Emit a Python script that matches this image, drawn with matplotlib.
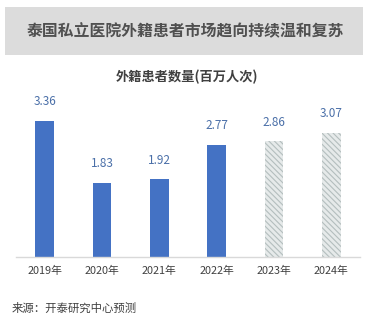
import matplotlib.pyplot as plt
from matplotlib.patches import Rectangle

plt.rcParams['font.family'] = ['Noto Sans CJK SC', 'DejaVu Sans']
plt.rcParams['hatch.linewidth'] = 0.8

years = ['2019年', '2020年', '2021年', '2022年', '2023年', '2024年']
values = [3.36, 1.83, 1.92, 2.77, 2.86, 3.07]
forecast = [False, False, False, False, True, True]

W, H = 369, 322
fig = plt.figure(figsize=(W / 100, H / 100), dpi=100)
fig.patch.set_facecolor('white')

# grey title band
fig.patches.append(Rectangle((5 / W, 1 - 55 / H), 358 / W, 48 / H,
                             transform=fig.transFigure, facecolor='#dcdcdc',
                             edgecolor='none', zorder=0))
fig.text(185 / W, 1 - 31 / H, '泰国私立医院外籍患者市场趋向持续温和复苏',
         ha='center', va='center', fontsize=11.4, fontweight='bold', color='#505050')
fig.text(187 / W, 1 - 77 / H, '外籍患者数量(百万人次)',
         ha='center', va='center', fontsize=9.5, fontweight='bold', color='#404040')
fig.text(12 / W, 1 - 308 / H, '来源：开泰研究中心预测',
         ha='left', va='center', fontsize=8.2, color='#404040')

ax = fig.add_axes([16 / W, 65 / H, 344 / W, 157 / H])
x = range(len(years))
for i, (v, f) in enumerate(zip(values, forecast)):
    if f:
        ax.bar(i, v, width=0.32, color='#e6eaea', edgecolor='#b4bebe',
               hatch='\\\\\\\\\\\\', linewidth=0)
    else:
        ax.bar(i, v, width=0.32, color='#4472c4')
    ax.annotate(f'{v:.2f}', (i, v), xytext=(0, 9), textcoords='offset points',
                ha='center', va='bottom', fontsize=8.5, color='#4a6fa8')

ax.set_xlim(-0.5, 5.5)
ax.set_ylim(0, 157 / 40.5)
ax.set_xticks(list(x))
ax.set_xticklabels(years, fontsize=7.8, color='#404040')
ax.tick_params(axis='x', length=0, pad=6)
ax.set_yticks([])
for s in ['top', 'left', 'right']:
    ax.spines[s].set_visible(False)
ax.spines['bottom'].set_color('#d9d9d9')
ax.spines['bottom'].set_linewidth(1)

fig.savefig('out.png', dpi=100)
